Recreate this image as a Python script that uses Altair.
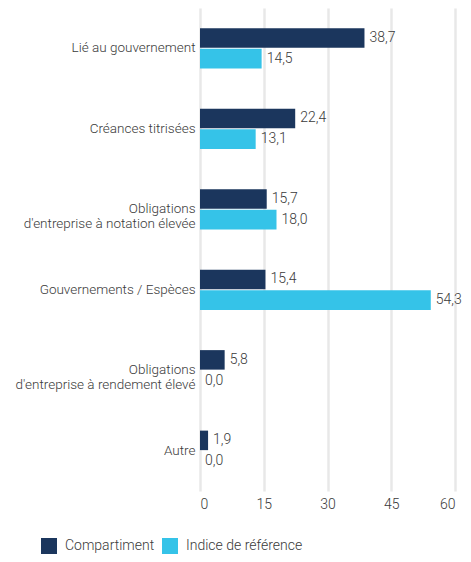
import altair as alt
import pandas as pd

categories = [
    "Lié au gouvernement",
    "Créances titrisées",
    "Obligations|d'entreprise à notation élevée",
    "Gouvernements / Espèces",
    "Obligations|d'entreprise à rendement élevé",
    "Autre",
]
compartiment = [38.7, 22.4, 15.7, 15.4, 5.8, 1.9]
indice = [14.5, 13.1, 18.0, 54.3, 0.0, 0.0]
series = ["Compartiment", "Indice de référence"]
colors = ["#1b365d", "#35c3e8"]
x_ticks = [0, 15, 30, 45, 60]

rows = []
for c, a, b in zip(categories, compartiment, indice):
    rows.append({"cat": c, "series": series[0], "value": a})
    rows.append({"cat": c, "series": series[1], "value": b})
df = pd.DataFrame(rows)

FONT = "Roboto, sans-serif"
FW = 300
TXT = "#3a3a3a"

y_enc = alt.Y(
    "cat:N",
    sort=categories,
    scale=alt.Scale(paddingInner=0.5, paddingOuter=0.25),
    axis=alt.Axis(
        title=None,
        labelExpr="split(datum.label, '|')",
        domain=False,
        ticks=False,
        labelPadding=5,
        labelFontSize=13.5,
        labelColor=TXT,
        labelFont=FONT,
        labelFontWeight=FW,
        labelLineHeight=15,
        labelLimit=300,
    ),
)
yoff = alt.YOffset("series:N", sort=series, scale=alt.Scale(paddingInner=0.06))

base = alt.Chart(df).encode(y=y_enc, yOffset=yoff)

bars = base.mark_bar().encode(
    x=alt.X(
        "value:Q",
        scale=alt.Scale(domain=[0, 60], nice=False),
        axis=alt.Axis(
            title=None,
            values=x_ticks,
            grid=True,
            gridColor="#e8e8e8",
            gridWidth=2.5,
            domain=False,
            ticks=False,
            labelPadding=6,
            labelFontSize=14,
            labelColor=TXT,
            labelFont=FONT,
            labelFontWeight=FW,
        ),
    ),
    color=alt.Color(
        "series:N",
        sort=series,
        scale=alt.Scale(domain=series, range=colors),
        legend=alt.Legend(
            title=None,
            orient="none",
            legendX=-159,
            legendY=530,
            direction="horizontal",
            symbolType="square",
            symbolSize=256,
            symbolStrokeWidth=0,
            symbolOpacity=1,
            labelFontSize=14,
            labelFont=FONT,
            labelFontWeight=FW,
            labelColor=TXT,
            labelOffset=8,
            columnPadding=7,
        ),
    ),
)

text = base.transform_calculate(
    label="replace(format(datum.value, '.1f'), '.', ',')"
).mark_text(
    align="left", baseline="middle", dx=5, fontSize=14, font=FONT,
    fontWeight=FW, color=TXT
).encode(x=alt.X("value:Q"), text="label:N")

chart = (
    alt.layer(bars, text)
    .properties(
        width=255,
        height=483,
        autosize=alt.AutoSizeParams(type="none"),
        padding={"left": 192, "top": 0, "right": 8, "bottom": 63},
    )
    .configure_view(stroke=None)
)

chart.save("out.html", embed_options={"renderer": "svg", "actions": False})
